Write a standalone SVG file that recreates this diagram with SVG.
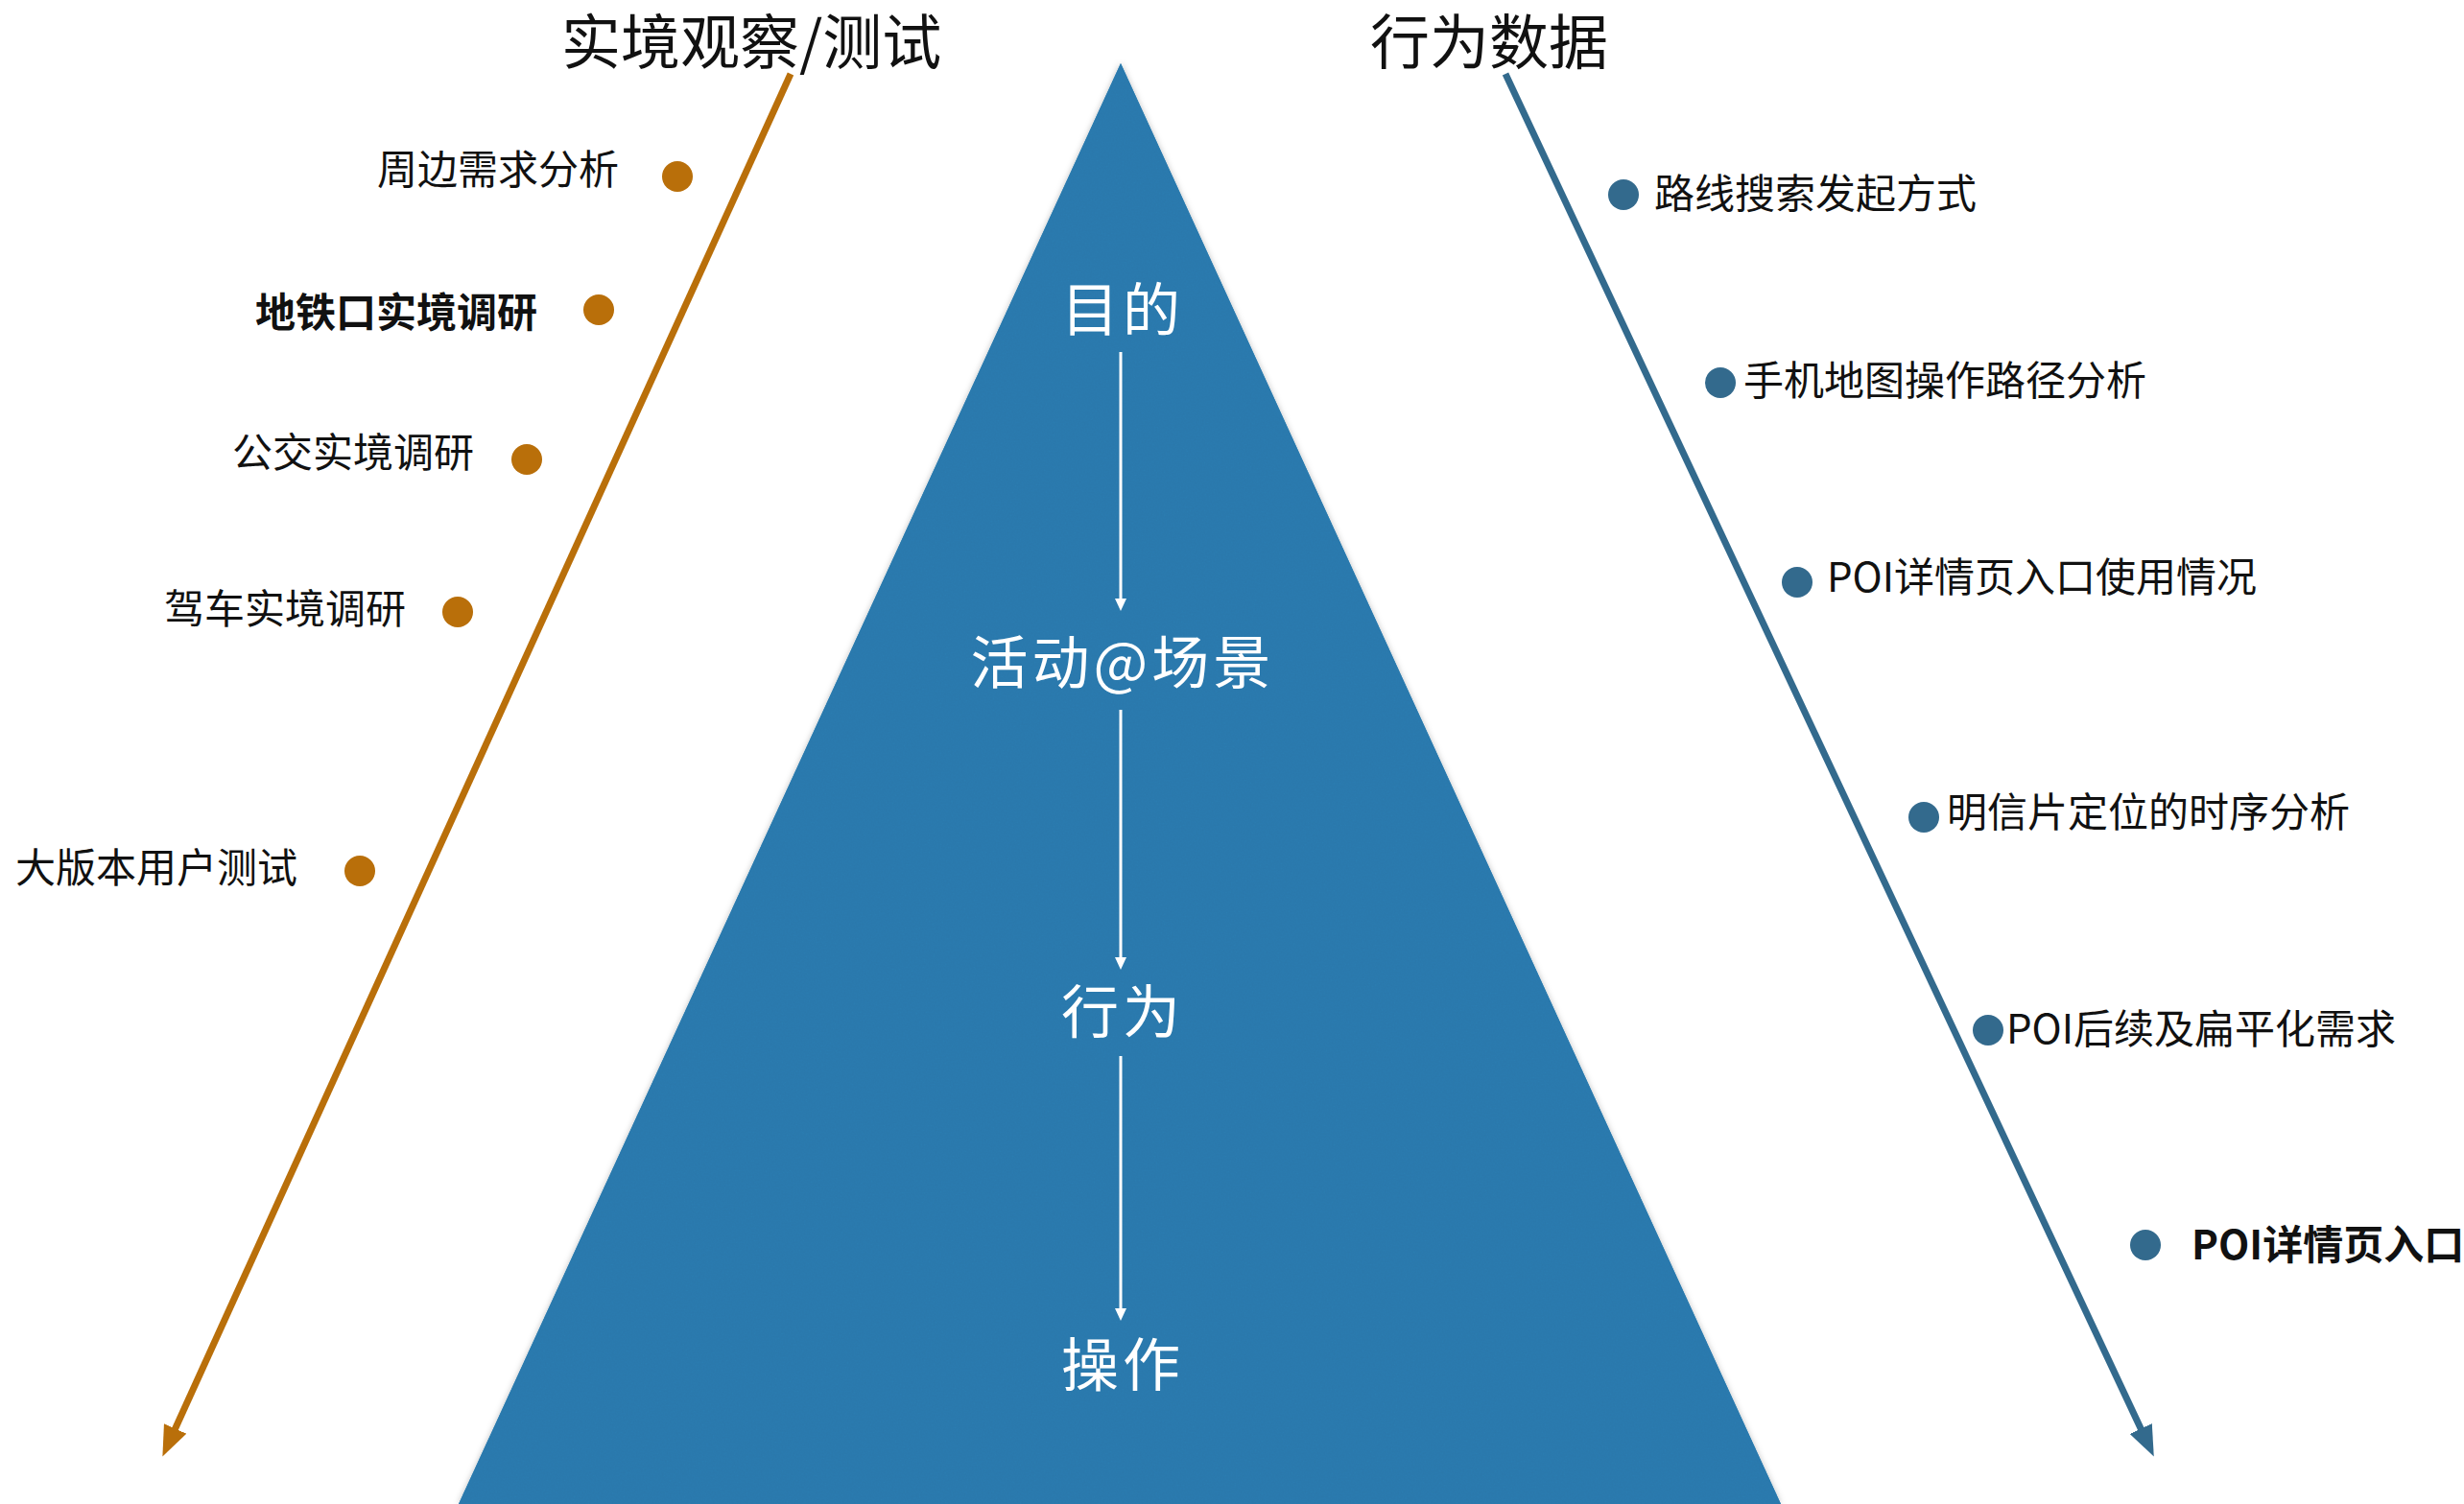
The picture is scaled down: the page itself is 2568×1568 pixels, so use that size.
<svg xmlns="http://www.w3.org/2000/svg" width="2568" height="1568" viewBox="0 0 2568 1568">
<style>
  .lbl{font-family:"Noto Sans CJK SC","Noto Sans",sans-serif;font-size:42px;fill:#111}
  .lblL{text-anchor:end}
  .bold{font-weight:bold}
  .title{font-family:"Noto Sans CJK SC","Noto Sans",sans-serif;font-size:62px;fill:#111}
  .mid{font-family:"Noto Sans CJK SC","Noto Sans",sans-serif;font-size:60px;fill:#ffffff;text-anchor:middle;letter-spacing:4px}
  .dotO{fill:#b96f0a}
  .dotB{fill:#336a8d}
</style>
<defs>
  <filter id="shadow" x="-5%" y="-5%" width="110%" height="110%">
    <feDropShadow dx="0" dy="0" stdDeviation="3" flood-color="#000" flood-opacity="0.25"/>
  </filter>
  <filter id="paper" x="0" y="0" width="100%" height="100%">
    <feTurbulence type="fractalNoise" baseFrequency="0.6" numOctaves="2" seed="3" result="n"/>
    <feColorMatrix in="n" type="matrix" values="0 0 0 0 0  0 0 0 0 0  0 0 0 0 0  0 0 0 0.08 0" result="na"/>
    <feComposite in="na" in2="SourceGraphic" operator="in" result="tex"/>
    <feMerge><feMergeNode in="SourceGraphic"/><feMergeNode in="tex"/></feMerge>
  </filter>
  <marker id="arrO" markerUnits="userSpaceOnUse" markerWidth="32" markerHeight="26" viewBox="0 0 30 24" refX="15" refY="12" orient="auto">
    <path d="M0,0 L30,12 L0,24 z" fill="#b96f0a"/>
  </marker>
  <marker id="arrB" markerUnits="userSpaceOnUse" markerWidth="32" markerHeight="26" viewBox="0 0 30 24" refX="15" refY="12" orient="auto">
    <path d="M0,0 L30,12 L0,24 z" fill="#336a8d"/>
  </marker>
  <marker id="arrW" markerUnits="userSpaceOnUse" markerWidth="14" markerHeight="12" viewBox="0 0 14 12" refX="6" refY="6" orient="auto">
    <path d="M0,0 L13,6 L0,12 z" fill="#ffffff"/>
  </marker>
</defs>
<rect width="2568" height="1568" fill="#ffffff"/>

<g id="pyramid">
  <polygon points="1168,66 478,1568 1856,1568" fill="#2e7db1" filter="url(#shadow)"/>
  <polygon points="1168,66 478,1568 1856,1568" fill="#2e7db1" filter="url(#paper)"/>
</g>

<g id="connectors">
  <line x1="824" y1="77" x2="176" y2="1504" stroke="#b96f0a" stroke-width="7" marker-end="url(#arrO)"/>
  <line x1="1569" y1="77" x2="2238" y2="1504" stroke="#336a8d" stroke-width="7" marker-end="url(#arrB)"/>
  <line x1="1168" y1="367" x2="1168" y2="630" stroke="#ffffff" stroke-width="3" marker-end="url(#arrW)"/>
  <line x1="1168" y1="740" x2="1168" y2="1004" stroke="#ffffff" stroke-width="3" marker-end="url(#arrW)"/>
  <line x1="1168" y1="1101" x2="1168" y2="1370" stroke="#ffffff" stroke-width="3" marker-end="url(#arrW)"/>
</g>

<g id="title-left"><text class="title" x="585" y="67">实境观察/测试</text></g>
<g id="title-right"><text class="title" x="1428" y="67">行为数据</text></g>

<g id="level-goal"><text class="mid" x="1170" y="345">目的</text></g>
<g id="level-activity"><text class="mid" x="1170" y="713">活动@场景</text></g>
<g id="level-behavior"><text class="mid" x="1170" y="1077">行为</text></g>
<g id="level-operation"><text class="mid" x="1170" y="1445">操作</text></g>

<g id="left-1"><circle class="dotO" cx="706" cy="184" r="16"/><text class="lbl lblL" x="645" y="192">周边需求分析</text></g>
<g id="left-2"><circle class="dotO" cx="624" cy="323" r="16"/><text class="lbl lblL bold" x="560" y="341">地铁口实境调研</text></g>
<g id="left-3"><circle class="dotO" cx="549" cy="479" r="16"/><text class="lbl lblL" x="494" y="487">公交实境调研</text></g>
<g id="left-4"><circle class="dotO" cx="477" cy="638" r="16"/><text class="lbl lblL" x="423" y="650">驾车实境调研</text></g>
<g id="left-5"><circle class="dotO" cx="375" cy="908" r="16"/><text class="lbl lblL" x="310" y="920">大版本用户测试</text></g>

<g id="right-1"><circle class="dotB" cx="1692" cy="203" r="16"/><text class="lbl" x="1724" y="217">路线搜索发起方式</text></g>
<g id="right-2"><circle class="dotB" cx="1793" cy="399" r="16"/><text class="lbl" x="1817" y="412">手机地图操作路径分析</text></g>
<g id="right-3"><circle class="dotB" cx="1873" cy="607" r="16"/><text class="lbl" x="1904" y="617">POI详情页入口使用情况</text></g>
<g id="right-4"><circle class="dotB" cx="2005" cy="852" r="16"/><text class="lbl" x="2029" y="862">明信片定位的时序分析</text></g>
<g id="right-5"><circle class="dotB" cx="2072" cy="1074" r="16"/><text class="lbl" x="2091" y="1088">POI后续及扁平化需求</text></g>
<g id="right-6"><circle class="dotB" cx="2236" cy="1298" r="16"/><text class="lbl bold" x="2284" y="1313">POI详情页入口</text></g>
</svg>
